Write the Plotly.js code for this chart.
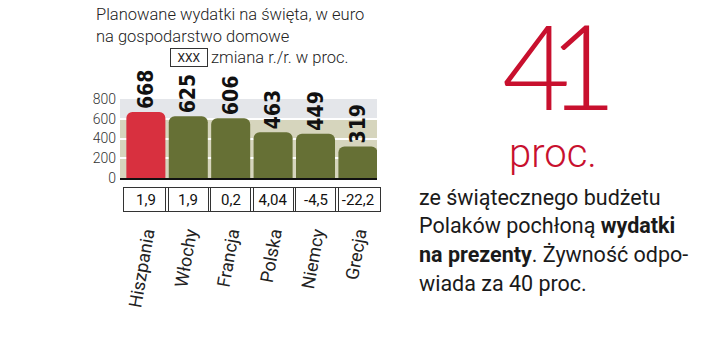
<!DOCTYPE html>
<html>
<head>
<meta charset="utf-8">
<script src="https://cdn.plot.ly/plotly-3.0.1.min.js"></script>
<style>html,body{margin:0;padding:0;background:#fff;}#chart{width:720px;height:359px;}</style>
</head>
<body>
<div id="chart"></div>
<script>
const countries = ["Hiszpania", "Włochy", "Francja", "Polska", "Niemcy", "Grecja"];
const spending = [668, 625, 606, 463, 449, 319];
const changeYoY = ["1,9", "1,9", "0,2", "4,04", "-4,5", "-22,2"];
const barColors = ["#d8303f", "#667035", "#667035", "#667035", "#667035", "#667035"];
const yTicks = [0, 200, 400, 600, 800];
const bodyLines = [
  "ze świątecznego budżetu",
  "Polaków pochłoną <b>wydatki</b>",
  "<b>na prezenty</b>. Żywność odpo-",
  "wiada za 40 proc."
];

const W = 720, H = 359;
const m = {l: 120, r: 343, t: 99, b: 181};
const pw = W - m.l - m.r, ph = H - m.t - m.b;
const px = x => (x - m.l) / pw;
const py = y => (H - m.b - y) / ph;

const trace = {
  type: "bar",
  x: countries,
  y: spending,
  marker: {color: barColors, cornerradius: 6, line: {width: 0}},
  width: 0.92,
  text: spending.map(String),
  textposition: "outside",
  textangle: -90,
  constraintext: "none",
  cliponaxis: false,
  textfont: {family: "DejaVu Sans Condensed", size: 21, color: "#111", weight: 700},
  hoverinfo: "skip"
};

const annotations = [];
const titleFont = {family: "Roboto", size: 16.5, color: "#222", weight: 300};
annotations.push({xref: "paper", yref: "paper", x: px(94), y: py(14), xanchor: "left", yanchor: "middle",
  text: "Planowane wydatki na święta, w euro", showarrow: false, font: titleFont});
annotations.push({xref: "paper", yref: "paper", x: px(94), y: py(36), xanchor: "left", yanchor: "middle",
  text: "na gospodarstwo domowe", showarrow: false, font: titleFont});
annotations.push({xref: "paper", yref: "paper", x: px(189), y: py(58), xanchor: "center", yanchor: "middle",
  text: "XXX", showarrow: false, bordercolor: "#333", borderwidth: 1, borderpad: 1, width: 34, height: 15,
  font: {family: "Roboto", size: 12, color: "#222"}});
annotations.push({xref: "paper", yref: "paper", x: px(209), y: py(58), xanchor: "left", yanchor: "middle",
  text: "zmiana r./r. w proc.", showarrow: false, font: titleFont});

countries.forEach((c, i) => {
  annotations.push({xref: "x", yref: "paper", x: c, y: py(199), xanchor: "center", yanchor: "middle",
    text: changeYoY[i], showarrow: false, bordercolor: "#333", borderwidth: 1, borderpad: 2,
    width: 40, height: 19, font: {family: "Roboto", size: 15, color: "#111"}});
});

annotations.push({xref: "paper", yref: "paper", x: px(548), y: py(64), xanchor: "center", yanchor: "middle",
  text: "41", showarrow: false, height: 100, font: {family: "Lato", size: 118, color: "#c8102e", weight: 300}});
annotations.push({xref: "paper", yref: "paper", x: px(553), y: py(153), xanchor: "center", yanchor: "middle",
  text: "proc.", showarrow: false, font: {family: "Roboto", size: 40, color: "#c8102e", weight: 300}});
bodyLines.forEach((t, i) => {
  annotations.push({xref: "paper", yref: "paper", x: px(417), y: py(197 + i * 28.8), xanchor: "left", yanchor: "middle",
    align: "left", showarrow: false, text: t,
    font: {family: "Roboto", size: 21.5, color: "#1a1a1a", weight: 400}});
});

const layout = {
  width: W, height: H,
  margin: m,
  paper_bgcolor: "#ffffff",
  plot_bgcolor: "#e4e6ea",
  showlegend: false,
  xaxis: {
    type: "category",
    range: [-0.61, 5.45],
    tickangle: -80,
    ticks: "",
    ticklabelstandoff: 36,
    tickfont: {family: "Roboto", size: 18, color: "#222", weight: 400},
    showline: true, linecolor: "#111", linewidth: 2,
    showgrid: false, fixedrange: true
  },
  yaxis: {
    range: [0, 800],
    tickvals: yTicks,
    ticktext: yTicks.map(String),
    tickfont: {family: "Roboto", size: 14, color: "#333", weight: 300},
    ticks: "",
    ticklabelstandoff: 3,
    showgrid: true, gridcolor: "#ffffff", gridwidth: 2,
    zeroline: false, showline: false, fixedrange: true
  },
  shapes: [{
    type: "rect", xref: "paper", yref: "y", x0: 0, x1: 1, y0: 0, y1: 600,
    fillcolor: "#d6d5bd", line: {width: 0}, layer: "below"
  }],
  annotations: annotations
};

Plotly.newPlot("chart", [trace], layout, {displayModeBar: false, staticPlot: true}).then(gd => {
  gd.querySelectorAll(".annotation-text").forEach(t => {
    if (t.textContent === "41") t.style.letterSpacing = "-22px";
  });
});
</script>
</body>
</html>
